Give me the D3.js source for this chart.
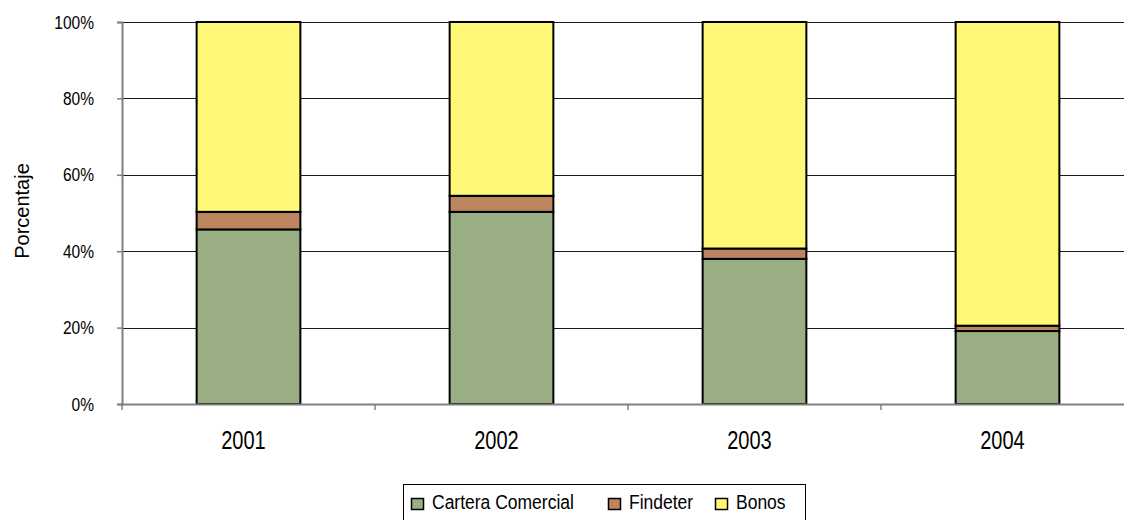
<!DOCTYPE html>
<html><head><meta charset="utf-8">
<script src="https://cdn.jsdelivr.net/npm/d3@7"></script>
<style>
html,body{margin:0;padding:0;background:#fff;overflow:hidden;}
text{font-family:"Liberation Sans",Arial,sans-serif;fill:#000;}
</style></head>
<body>
<svg id="chart" width="1124" height="520"></svg>
<script>
const years = ["2001", "2002", "2003", "2004"];
const seriesNames = ["Cartera Comercial", "Findeter", "Bonos"];
const carteraComercial = [45.7, 50.3, 38.0, 19.1];
const findeter = [4.6, 4.2, 2.7, 1.4];
const bonos = [49.7, 45.5, 59.3, 79.5];
const seriesColors = ["#99AF83", "#BC845F", "#FFF876"];
const yTicks = [0, 20, 40, 60, 80, 100];

const svg = d3.select("#chart");
const x = d3.scaleBand().domain(years).range([122, 1134]).padding(0);
const y = d3.scaleLinear().domain([0, 100]).range([404, 22]);

// gridlines
svg.append("g").selectAll("line").data(yTicks.filter(t => t > 0)).join("line")
  .attr("x1", 122).attr("x2", 1134)
  .attr("y1", d => Math.round(y(d)) + 0.5).attr("y2", d => Math.round(y(d)) + 0.5)
  .attr("stroke", "#1a1a1a").attr("stroke-width", 1);

// stacked data
const rows = years.map((yr, i) => ({year: yr, "Cartera Comercial": carteraComercial[i], "Findeter": findeter[i], "Bonos": bonos[i]}));
const stack = d3.stack().keys(seriesNames)(rows);
const barW = x.bandwidth() * 0.41;

svg.append("g").selectAll("g").data(stack).join("g")
  .attr("fill", (d, i) => seriesColors[i])
  .selectAll("rect").data(d => d).join("rect")
  .attr("x", d => x(d.data.year) + (x.bandwidth() - barW) / 2)
  .attr("width", barW)
  .attr("y", d => y(d[1]))
  .attr("height", d => y(d[0]) - y(d[1]))
  .attr("stroke", "#000").attr("stroke-width", 2);

// y axis
const yAxis = svg.append("g").attr("transform", "translate(122,0)")
  .call(d3.axisLeft(y).tickValues(yTicks).tickSize(5).tickFormat(d => d + "%"));
yAxis.select(".domain").attr("stroke", "#808080").attr("stroke-width", 2);
yAxis.selectAll(".tick line").attr("stroke", "#808080").attr("stroke-width", 1.5);
yAxis.selectAll(".tick text").remove();
yAxis.selectAll(".tick").append("text")
  .attr("text-anchor", "end")
  .attr("transform", "translate(-28,6) scale(0.84,1)")
  .attr("font-size", 18.5)
  .text(d => d + "%");

// x axis
const xAxis = svg.append("g").attr("transform", "translate(0,404)")
  .call(d3.axisBottom(x).tickSize(0).tickFormat(""));
xAxis.select(".domain").attr("stroke", "#808080").attr("stroke-width", 2);
svg.append("g").selectAll("line").data(years.slice(1).concat(["end"])).join("line")
  .attr("x1", (d, i) => i < 3 ? x(d) : 1134).attr("x2", (d, i) => i < 3 ? x(d) : 1134)
  .attr("y1", 404).attr("y2", 410)
  .attr("stroke", "#808080").attr("stroke-width", 1.5);
svg.append("line").attr("x1", 122).attr("x2", 122).attr("y1", 404).attr("y2", 410)
  .attr("stroke", "#808080").attr("stroke-width", 1.5);
svg.append("g").selectAll("text").data(years).join("text")
  .attr("text-anchor", "middle")
  .attr("transform", d => `translate(${x(d) + x.bandwidth() / 2 - 5},449) scale(0.77,1)`)
  .attr("font-size", 26)
  .text(d => d);

// y title
svg.append("text")
  .attr("transform", "translate(29,211) rotate(-90)")
  .attr("text-anchor", "middle")
  .attr("font-size", 20)
  .text("Porcentaje");

// legend
const lg = svg.append("g");
lg.append("rect").attr("x", 403.5).attr("y", 484.5).attr("width", 402).attr("height", 50)
  .attr("fill", "#fff").attr("stroke", "#000").attr("stroke-width", 1);
const legendX = [411, 608, 715];
const item = lg.selectAll("g").data(seriesNames).join("g")
  .attr("transform", (d, i) => `translate(${legendX[i]},0)`);
item.append("rect").attr("x", 0.5).attr("y", 498.5).attr("width", 12).attr("height", 11)
  .attr("fill", (d, i) => seriesColors[i]).attr("stroke", "#000").attr("stroke-width", 1.5);
item.append("text")
  .attr("transform", "translate(21,509) scale(0.875,1)")
  .attr("font-size", 20)
  .text(d => d);
</script>
</body></html>
